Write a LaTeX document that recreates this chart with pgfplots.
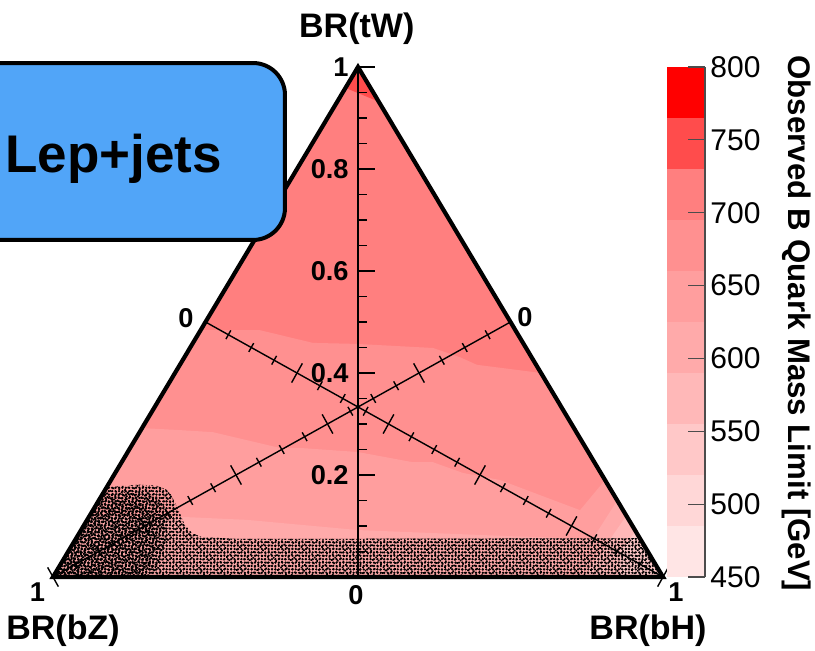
\documentclass[border=0pt]{standalone}
\usepackage{fontspec}
\setmainfont{Liberation Sans}
\usepackage{pgfplots}
\pgfplotsset{compat=1.18}
\usetikzlibrary{calc,patterns.meta}

% limit palette, top (800 GeV) to bottom (450 GeV)
\definecolor{zA}{HTML}{FF0000}
\definecolor{zB}{HTML}{FF4C4C}
\definecolor{zC}{HTML}{FF7F7F}
\definecolor{zD}{HTML}{FF9090}
\definecolor{zE}{HTML}{FF9E9E}
\definecolor{zF}{HTML}{FFAAAA}
\definecolor{zG}{HTML}{FFB8B8}
\definecolor{zH}{HTML}{FFC8C8}
\definecolor{zI}{HTML}{FFD7D7}
\definecolor{zJ}{HTML}{FFE5E5}
\definecolor{boxblue}{HTML}{51A5F8}

\newcommand{\lab}{\fontsize{17}{17}\selectfont\bfseries}
\newcommand{\tlab}{\fontsize{13.6}{13.6}\selectfont\bfseries}

\begin{document}
\begin{tikzpicture}
\useasboundingbox (0,0) rectangle (407.5pt,325.5pt);

% ternary plane: x = horizontal position along the base, y = BR(tW)
\begin{axis}[
  hide axis, scale only axis,
  width=407.5pt, height=325.5pt,
  xmin=-0.086885, xmax=1.249180,
  ymin=-0.145098, ymax=1.131373,
  clip=false]

% filled limit contours
\addplot[draw=none, fill=zC] coordinates {(0,0) (1,0) (0.5,1)} -- cycle;
\addplot[draw=none, fill=zD] coordinates {
  (0,0) (1,0) (0.800,0.400) (0.695,0.416) (0.667,0.431) (0.623,0.449)
  (0.498,0.457) (0.426,0.459) (0.339,0.484) (0.242,0.484)} -- cycle;
\addplot[draw=none, fill=zE] coordinates {
  (0,0) (1,0) (0.905,0.190) (0.864,0.131) (0.733,0.190) (0.672,0.204)
  (0.623,0.225) (0.590,0.225) (0.500,0.245) (0.405,0.253) (0.372,0.253)
  (0.262,0.284) (0.208,0.288) (0.146,0.292)} -- cycle;
\addplot[draw=none, fill=zF] coordinates {
  (0,0) (1,0) (0.925,0.150) (0.885,0.075) (0.750,0.080) (0.500,0.092)
  (0.318,0.112) (0.208,0.118) (0.060,0.120)} -- cycle;
\addplot[draw=none, fill=zG] coordinates {
  (0.870,0) (1,0) (0.940,0.120) (0.905,0.060)} -- cycle;
\addplot[draw=none, fill=zH] coordinates {
  (0.930,0) (1,0) (0.955,0.090) (0.930,0.050)} -- cycle;
\addplot[draw=none, fill=zB] coordinates {
  (0.5,1) (0.4795,0.959) (0.534,0.932)} -- cycle;

% bins without a computed limit
\addplot[draw=none, pattern={Dots[radius=0.65pt, distance=1.7pt]}, pattern color=black] coordinates {
  (0,0) (0.0882,0.1765) (0.1426,0.1810) (0.1700,0.1790) (0.1850,0.1720)
  (0.1930,0.1620) (0.1990,0.1480) (0.2060,0.1300) (0.2150,0.1050)
  (0.2280,0.0860) (0.2450,0.0780) (0.3066,0.0745) (0.962,0.076) (1,0)} -- cycle;
\addplot[draw=none, pattern={Dots[radius=0.6pt, distance=2.05pt, angle=37]}, pattern color=black] coordinates {
  (0,0) (0.0882,0.1765) (0.1426,0.1810) (0.1700,0.1790) (0.1850,0.1720)
  (0.1930,0.1620) (0.1990,0.1480) (0.2060,0.1300) (0.2150,0.1050)
  (0.2280,0.0860) (0.2450,0.0780) (0.3066,0.0745) (0.962,0.076) (1,0)} -- cycle;
\addplot[draw=none, pattern={Dots[radius=0.65pt, distance=1.8pt, angle=71, xshift=0.5pt]}, pattern color=black] coordinates {
  (0,0) (0.080,0.160) (0.120,0.168) (0.155,0.166) (0.176,0.150)
  (0.186,0.115) (0.186,0.070) (0.175,0.030) (0.160,0)} -- cycle;
\addplot[draw=none, pattern={Dots[radius=0.6pt, distance=2.2pt, angle=17, yshift=0.7pt]}, pattern color=black] coordinates {
  (0,0) (0.070,0.140) (0.110,0.150) (0.145,0.145) (0.165,0.120)
  (0.170,0.070) (0.160,0.030) (0.140,0)} -- cycle;

\addplot[black, line width=2.1pt] coordinates {(0,0) (1,0) (0.5,1)} -- cycle;

\coordinate (vA) at (axis cs:0.5,0);
\coordinate (vB) at (axis cs:0.5,1);
\coordinate (dL) at (axis cs:0.25,0.5);
\coordinate (dR) at (axis cs:0.75,0.5);
\coordinate (bL) at (axis cs:0,0);
\coordinate (bR) at (axis cs:1,0);
\coordinate (cbSW) at (axis cs:1.00656,0);
\coordinate (boxSW) at (axis cs:-0.152,0.6608);
\coordinate (boxNE) at (axis cs:0.3803,1.0078);
\coordinate (lepPos) at (axis cs:-0.0787,0.794);

% axis titles and end labels
\node[font=\lab] at (axis cs:0.498,1.076) {BR(tW)};
\node[font=\lab] at (axis cs:0.0164,-0.1059) {BR(bZ)};
\node[font=\lab] at (axis cs:0.9754,-0.1059) {BR(bH)};
\node[font=\tlab, anchor=east, inner sep=0pt] at (axis cs:0.4852,1) {1};
\node[font=\tlab, anchor=east, inner sep=0pt] at (axis cs:0.4852,0.8) {0.8};
\node[font=\tlab, anchor=east, inner sep=0pt] at (axis cs:0.4852,0.6) {0.6};
\node[font=\tlab, anchor=east, inner sep=0pt] at (axis cs:0.4852,0.4) {0.4};
\node[font=\tlab, anchor=east, inner sep=0pt] at (axis cs:0.4852,0.2) {0.2};
\node[font=\tlab] at (axis cs:0.4967,-0.0363) {0};
\node[font=\tlab] at (axis cs:0.218,0.508) {0};
\node[font=\tlab] at (axis cs:0.7738,0.5098) {0};
\node[font=\tlab] at (axis cs:-0.0254,-0.0304) {1};
\node[font=\tlab] at (axis cs:1.0213,-0.029) {1};
\end{axis}

% BR(tW) axis with ticks every 0.05
\draw[line width=0.75pt] (vA) -- (vB);
\foreach \i in {1,...,20}{
  \pgfmathsetmacro\t{\i/20}
  \pgfmathsetmacro\len{ifthenelse(mod(\i,4)==0,8.5,4.5)}
  \draw[line width=0.75pt] ($(vA)!\t!(vB)$) -- ++(\len pt,0);
}
% BR(bH) and BR(bZ) axes
\draw[line width=0.7pt] (dL) -- (bR);
\draw[line width=0.7pt] (dR) -- (bL);
\foreach \i in {0,...,20}{
  \pgfmathsetmacro\t{\i/20}
  \pgfmathsetmacro\h{ifthenelse(mod(\i,4)==0,5.5,2.5)}
  \draw[line width=0.7pt] ($(dL)!\t!(bR)$) ++(60.87:\h pt) -- ++(240.87:2*\h pt);
  \draw[line width=0.7pt] ($(dR)!\t!(bL)$) ++(119.13:\h pt) -- ++(-60.87:2*\h pt);
}

% channel label
\draw[line width=2pt, fill=boxblue, rounded corners=16pt] (boxSW) rectangle (boxNE);
\node[anchor=base west, inner sep=0pt, font=\fontsize{26.5}{26.5}\selectfont\bfseries] at (lepPos) {Lep+jets};

% colour scale
\begin{axis}[
  at={(cbSW)}, anchor=south west,
  scale only axis, width=19pt, height=255pt,
  xmin=0, xmax=1, ymin=450, ymax=800,
  axis x line=none, axis y line*=right,
  xtick=\empty,
  ytick={450,500,...,800}, minor ytick={},
  tick align=inside, major tick length=8.5pt,
  axis line style={draw=black!70, line width=0.6pt},
  ytick style={draw=black!70, line width=0.6pt},
  yticklabel pos=right,
  yticklabel style={font=\fontsize{15}{15}\selectfont, inner sep=0pt, xshift=2.5pt},
  /pgf/number format/assume math mode=true,
  axis on top, clip=false]
\addplot[draw=none, fill=zJ] coordinates {(0,450) (1,450) (1,485) (0,485)} -- cycle;
\addplot[draw=none, fill=zI] coordinates {(0,485) (1,485) (1,520) (0,520)} -- cycle;
\addplot[draw=none, fill=zH] coordinates {(0,520) (1,520) (1,555) (0,555)} -- cycle;
\addplot[draw=none, fill=zG] coordinates {(0,555) (1,555) (1,590) (0,590)} -- cycle;
\addplot[draw=none, fill=zF] coordinates {(0,590) (1,590) (1,625) (0,625)} -- cycle;
\addplot[draw=none, fill=zE] coordinates {(0,625) (1,625) (1,660) (0,660)} -- cycle;
\addplot[draw=none, fill=zD] coordinates {(0,660) (1,660) (1,695) (0,695)} -- cycle;
\addplot[draw=none, fill=zC] coordinates {(0,695) (1,695) (1,730) (0,730)} -- cycle;
\addplot[draw=none, fill=zB] coordinates {(0,730) (1,730) (1,765) (0,765)} -- cycle;
\addplot[draw=none, fill=zA] coordinates {(0,765) (1,765) (1,800) (0,800)} -- cycle;
\node[rotate=-90, font=\fontsize{15.6}{15.6}\selectfont\bfseries] at (axis cs:3.42,624) {Observed B Quark Mass Limit [GeV]};
\end{axis}
\end{tikzpicture}
\end{document}
